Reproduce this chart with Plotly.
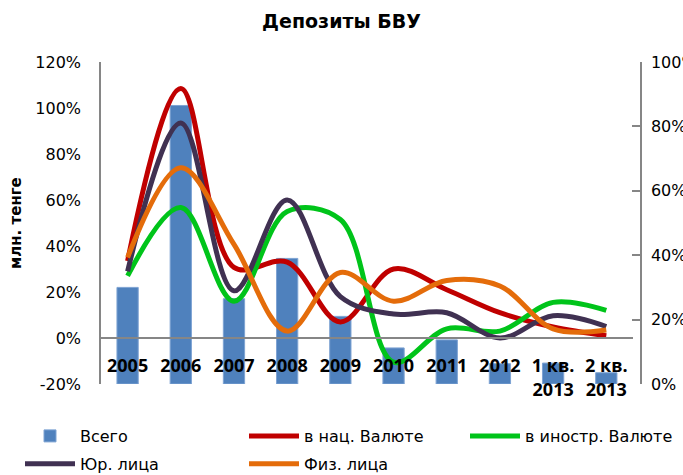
import plotly.graph_objects as go

categories = ['2005', '2006', '2007', '2008', '2009', '2010', '2011', '2012',
              '1 кв.<br>2013', '2 кв.<br>2013']
total = [0.30, 0.865, 0.265, 0.39, 0.21, 0.112, 0.137, 0.063, 0.065, 0.035]
nat_cur = [0.335, 1.085, 0.307, 0.33, 0.07, 0.30, 0.21, 0.11, 0.048, 0.01]
for_cur = [0.27, 0.567, 0.16, 0.55, 0.515, -0.105, 0.04, 0.03, 0.155, 0.12]
legal = [0.29, 0.935, 0.205, 0.60, 0.18, 0.104, 0.11, 0.0, 0.097, 0.05]
indiv = [0.35, 0.74, 0.407, 0.03, 0.285, 0.16, 0.25, 0.226, 0.04, 0.035]

left_ticks = [-0.2, 0, 0.2, 0.4, 0.6, 0.8, 1.0, 1.2]
left_labels = ['-20%', '0%', '20%', '40%', '60%', '80%', '100%', '120%']
right_ticks = [0, 0.2, 0.4, 0.6, 0.8, 1.0]
right_labels = ['0%', '20%', '40%', '60%', '80%', '100%']

AXIS = '#868686'
FONT = 'DejaVu Sans'

fig = go.Figure()
fig.add_trace(go.Bar(x=categories, y=total, name='Всего', yaxis='y', legend='legend',
                     legendgroup='a', legendrank=1,
                     marker=dict(color='#4F81BD', line=dict(color='#7EA3D3', width=1)),
                     width=0.4))
lines = [('в нац. Валюте', nat_cur, '#C00000', 'legend2', 1),
         ('в иностр. Валюте', for_cur, '#00C41A', 'legend3', 1),
         ('Юр. лица', legal, '#403152', 'legend', 2),
         ('Физ. лица', indiv, '#E46C0A', 'legend2', 2)]
for name, vals, col, leg, rank in lines:
    fig.add_trace(go.Scatter(x=categories, y=vals, name=name, yaxis='y2', legend=leg,
                             legendgroup=name, legendrank=rank,
                             mode='lines', line=dict(color=col, width=5, shape='spline', smoothing=1)))

legend_common = dict(orientation='v', xref='container', yref='container', xanchor='left',
                     yanchor='top', y=(475 - 419) / 475, tracegroupgap=4, itemwidth=50,
                     font=dict(family=FONT, size=16, color='black'), traceorder='grouped',
                     bgcolor='rgba(0,0,0,0)')

fig.update_layout(
    width=683, height=475,
    margin=dict(l=101, r=42, t=62, b=91, autoexpand=False),
    paper_bgcolor='white', plot_bgcolor='white',
    title=dict(text='Депозиты БВУ', x=0.5, xanchor='center', y=1 - 21 / 475, yanchor='middle',
               yref='container', font=dict(family=FONT, size=19, color='black', weight='bold')),
    xaxis=dict(domain=[0, 0.985], anchor='free', position=20 / 140, showline=True,
               linecolor=AXIS, linewidth=1.5, ticks='', showgrid=False, zeroline=False,
               tickfont=dict(family='Open Sans', size=18, color='black', weight='bold'),
               ticklabelstandoff=12, automargin=False),
    yaxis=dict(side='right', anchor='free', position=1.0, range=[0, 1.0],
               tickvals=right_ticks, ticktext=right_labels, showline=True, linecolor=AXIS,
               linewidth=1.5, ticks='inside', ticklen=8, tickcolor=AXIS, tickwidth=1.5,
               showgrid=False, zeroline=False, ticklabelstandoff=6, automargin=False,
               tickfont=dict(family=FONT, size=16, color='black')),
    yaxis2=dict(side='left', overlaying='y', anchor='x', range=[-0.2, 1.2],
                tickvals=left_ticks, ticktext=left_labels, showline=True, linecolor=AXIS,
                linewidth=1.5, ticks='', showgrid=False, zeroline=False,
                ticklabelstandoff=15, automargin=False,
                tickfont=dict(family=FONT, size=16, color='black')),
    annotations=[dict(text='млн. тенге', xref='paper', yref='paper', x=-85 / 540, y=0.5,
                      xanchor='center', yanchor='middle', textangle=-90, showarrow=False,
                      font=dict(family=FONT, size=15, color='black', weight='bold'))],
    legend=dict(x=20 / 683, **legend_common),
    legend2=dict(x=244 / 683, **legend_common),
    legend3=dict(x=465 / 683, **legend_common),
    showlegend=True,
)

fig.write_html('out.html', config={'displayModeBar': False},
               post_script="document.body.style.margin='0';")
